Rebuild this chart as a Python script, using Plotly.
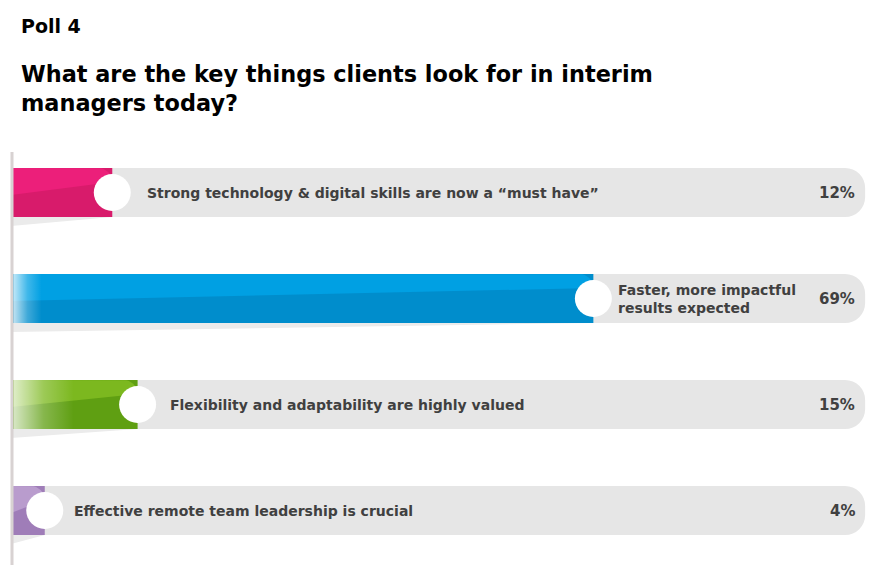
import math
import plotly.graph_objects as go

# ---------------- data ----------------
categories = [
    "Strong technology & digital skills are now a \u201cmust have\u201d",
    "Faster, more impactful<br>results expected",
    "Flexibility and adaptability are highly valued",
    "Effective remote team leadership is crucial",
]
values = [12, 69, 15, 4]
pct_labels = ["12%", "69%", "15%", "4%"]
track_value = 101.2

# ---------------- style ----------------
light_colors = ["#ec1f7a", "#00a0e3", "#7cb81f", "#b99ccd"]
dark_colors = ["#d81b6b", "#008dcc", "#5f9f12", "#9f7db8"]
fade_px = [0, 28, 60, 0]
label_shift_px = [33, 23, 30, 27]
track_color = "#e6e6e6"
text_color = "#404040"
FONT = "DejaVu Sans"

OFF = 8                        # page body margin of the browser
W, H = 875 - 2 * OFF, 583 - 2 * OFF
X0PX, XSCALE = 11.0 - OFF, 8.44      # pixel of value 0, pixels per unit
Y0PX, YSCALE = 192.5 - OFF, 106.0    # pixel of row 0, pixels per row
BAR_PX = 49.0
CIRCLE_R = 18.5
BAR_CR = 14


def dx(p):
    return p / XSCALE


def dy(p):
    return p / YSCALE


def px_x(p):
    return (p - OFF) / W


def px_y(p):
    return 1 - (p - OFF) / H


rows = list(range(len(values)))
bw = BAR_PX / YSCALE

fig = go.Figure()

# grey tracks
fig.add_trace(go.Bar(
    y=rows, x=[track_value] * len(rows), orientation="h", width=bw,
    marker=dict(color=track_color, cornerradius=20, line=dict(width=0)),
    hoverinfo="skip",
))
# coloured bars (darker lower tone)
fig.add_trace(go.Bar(
    y=rows, x=values, orientation="h", width=bw,
    marker=dict(color=dark_colors, cornerradius=BAR_CR, line=dict(width=0)),
    hoverinfo="skip",
))

for i, v in enumerate(values):
    top = i - bw / 2
    bot = i + bw / 2
    h = bw
    dl = top + 0.55 * h
    dr = top + 0.2 * h
    # shadow wedge below the bar
    fig.add_trace(go.Scatter(
        x=[0, 0, v, 0], y=[bot, bot + dy(9), bot, bot], mode="lines",
        fill="toself", fillcolor="#ebebeb", line=dict(width=0),
        hoverinfo="skip",
    ))
    # lighter upper tone, following the rounded top-right corner
    xs = [0, v - dx(BAR_CR)]
    ys = [top, top]
    for k in range(1, 9):
        a = math.pi / 2 * k / 8
        xs.append(v - dx(BAR_CR) + dx(BAR_CR) * math.sin(a))
        ys.append(top + dy(BAR_CR) - dy(BAR_CR) * math.cos(a))
    xs += [v, 0, 0]
    ys += [max(dr, top + dy(BAR_CR)), dl, top]
    fig.add_trace(go.Scatter(
        x=xs, y=ys, mode="lines", fill="toself",
        fillcolor=light_colors[i], line=dict(width=0), hoverinfo="skip",
    ))
    # soft white fade at the left end
    if fade_px[i] > 0:
        x0, x1 = dx(2.5), dx(2.5 + fade_px[i])
        fig.add_trace(go.Scatter(
            x=[x0, x1, x1, x0, x0], y=[top, top, bot, bot, top],
            mode="lines", fill="toself", line=dict(width=0),
            fillgradient=dict(
                type="horizontal",
                colorscale=[[0, "rgba(255,255,255,0.75)"],
                            [0.5, "rgba(255,255,255,0.25)"],
                            [1, "rgba(255,255,255,0)"]],
            ),
            hoverinfo="skip",
        ))

# pole
fig.add_trace(go.Scatter(
    x=[dx(1), dx(1)], y=[dy(152 - OFF - Y0PX), dy(565 - OFF - Y0PX)],
    mode="lines", line=dict(color="#d8d2d2", width=3), hoverinfo="skip",
))

# white circles at the bar ends
fig.add_trace(go.Scatter(
    x=values, y=rows, mode="markers",
    marker=dict(size=2 * CIRCLE_R, color="white", line=dict(width=0)),
    hoverinfo="skip",
))

annotations = []
for i, (v, lab, pct) in enumerate(zip(values, categories, pct_labels)):
    annotations.append(dict(
        x=v, y=i, xref="x", yref="y", text=lab, showarrow=False,
        xanchor="left", yanchor="middle", xshift=label_shift_px[i],
        align="left",
        font=dict(family=FONT, size=14, color=text_color, weight="bold"),
    ))
    annotations.append(dict(
        x=px_x(857), y=i, xref="paper", yref="y", text=pct, showarrow=False,
        xanchor="right", yanchor="middle",
        font=dict(family=FONT, size=15, color=text_color, weight="bold"),
    ))

annotations.append(dict(
    x=px_x(19), y=px_y(26), xref="paper", yref="paper", text="Poll 4",
    showarrow=False, xanchor="left", yanchor="middle",
    font=dict(family=FONT, size=19, color="#000000", weight="bold"),
))
annotations.append(dict(
    x=px_x(19), y=px_y(88.5), xref="paper", yref="paper",
    text="What are the key things clients look for in interim<br>managers today?",
    showarrow=False, xanchor="left", yanchor="middle", align="left",
    font=dict(family=FONT, size=22.4, color="#000000", weight="bold"),
))

fig.update_layout(
    width=W, height=H,
    margin=dict(l=0, r=0, t=0, b=0),
    paper_bgcolor="white", plot_bgcolor="white",
    barmode="overlay", showlegend=False,
    xaxis=dict(range=[-X0PX / XSCALE, (W - X0PX) / XSCALE], visible=False,
               fixedrange=True),
    yaxis=dict(range=[(H - Y0PX) / YSCALE, -Y0PX / YSCALE], visible=False,
               fixedrange=True),
    annotations=annotations,
)

fig.write_html("out.html")
